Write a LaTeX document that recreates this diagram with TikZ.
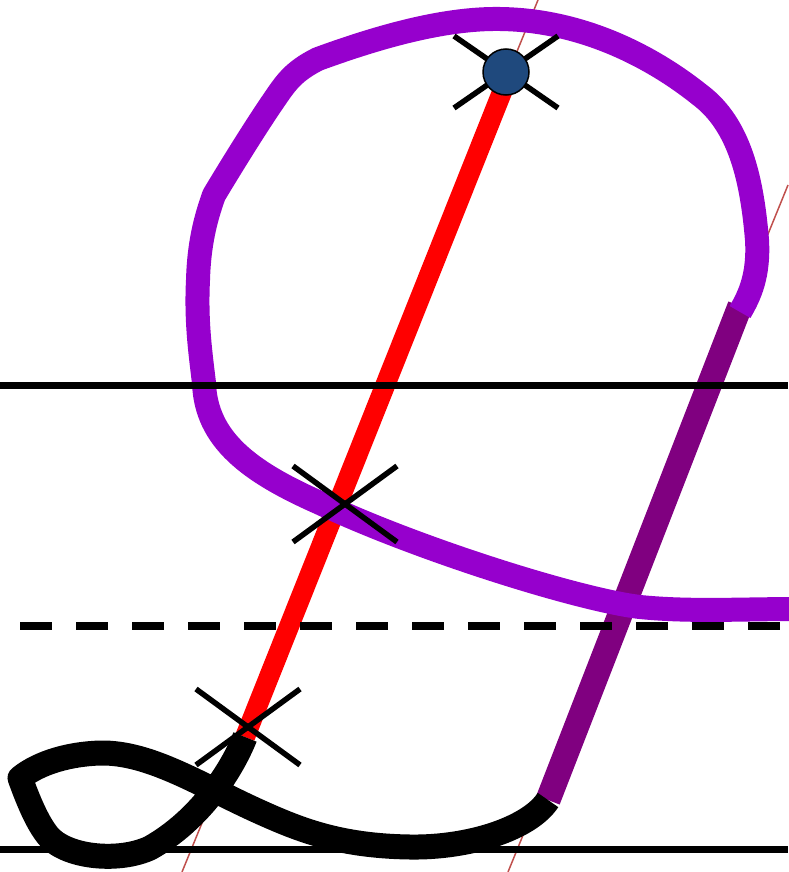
\documentclass[tikz,border=0pt]{standalone}
\usetikzlibrary{calc}
\definecolor{loopviolet}{RGB}{150,0,205}
\definecolor{stemviolet}{RGB}{128,0,128}
\definecolor{guidered}{RGB}{192,80,77}
\definecolor{dotblue}{RGB}{31,73,125}
\begin{document}
\begin{tikzpicture}[x=1pt,y=-1pt,
  guideline/.style={guidered,line width=1.5pt},
  ruleline/.style={black,line width=7.5pt},
  crossmark/.style={black,line width=5.5pt},
  stemstroke/.style={stemviolet,line width=25pt},
  redstroke/.style={red,line width=20pt},
  blackstroke/.style={black,line width=25pt,line join=round},
  loopstroke/.style={loopviolet,line width=24pt,line join=round},
  dotnode/.style={circle,draw=black,line width=1.5pt,fill=dotblue,minimum size=46pt,inner sep=0pt}]
\useasboundingbox (0,0) rectangle (788,872);
\coordinate (topc) at (506,72);
\coordinate (redtop) at (510,72);
\coordinate (redend) at (245,737);
\coordinate (midc) at (345,504);
\coordinate (lowc) at (248,727);
\coordinate (g1a) at (538,0);
\coordinate (g1b) at (182,872);
\coordinate (g2a) at (788,185);
\coordinate (g2b) at (508,872);
\coordinate (stemtop) at (740,306);
\coordinate (stembot) at (548,800);
% guides
\draw[guideline] (g1a) -- (g1b);
\draw[guideline] (g2a) -- (g2b);
% stem
\draw[stemstroke] (stemtop) -- (stembot);
% red slant
\draw[redstroke] (redtop) -- (redend);
% black lower stroke
\draw[blackstroke] (redend) .. controls (232,770) and (200,820) .. (150,848)
  .. controls (120,862) and (70,858) .. (50,838)
  .. controls (38,825) and (28,800) .. (20,778)
  .. controls (40,762) and (70,754) .. (100,753)
  .. controls (150,752) and (200,785) .. (260,812)
  .. controls (300,830) and (340,846) .. (410,847)
  .. controls (470,848) and (530,828) .. (stembot);
% violet loop
\draw[loopstroke] (800,609) .. controls (740,609) and (690,612) .. (640,607)
  .. controls (580,600) and (420,550) .. (320,503)
  .. controls (250,472) and (206,440) .. (204,383)
  .. controls (200,350) and (196,320) .. (198,280)
  .. controls (199,245) and (205,220) .. (214,195)
  .. controls (232,165) and (255,128) .. (272,103)
  .. controls (285,84) and (292,72) .. (318,59)
  .. controls (370,40) and (440,18) .. (500,19)
  .. controls (580,20) and (650,55) .. (700,95)
  .. controls (740,125) and (752,180) .. (757,240)
  .. controls (759,275) and (750,295) .. (740,312);
% rules
\draw[ruleline] (0,385.5) -- (788,385.5);
\draw[ruleline] (0,849.5) -- (788,849.5);
\draw[ruleline,dash pattern=on 32pt off 24pt] (20,626) -- (780,626);
% crosses
\foreach \c/\h in {topc/36,midc/38,lowc/38}{
  \draw[crossmark] ($(\c)+(-52,-\h)$) -- ($(\c)+(52,\h)$);
  \draw[crossmark] ($(\c)+(-52,\h)$) -- ($(\c)+(52,-\h)$);
}
\node[dotnode] (dot) at (topc) {};
\end{tikzpicture}
\end{document}
